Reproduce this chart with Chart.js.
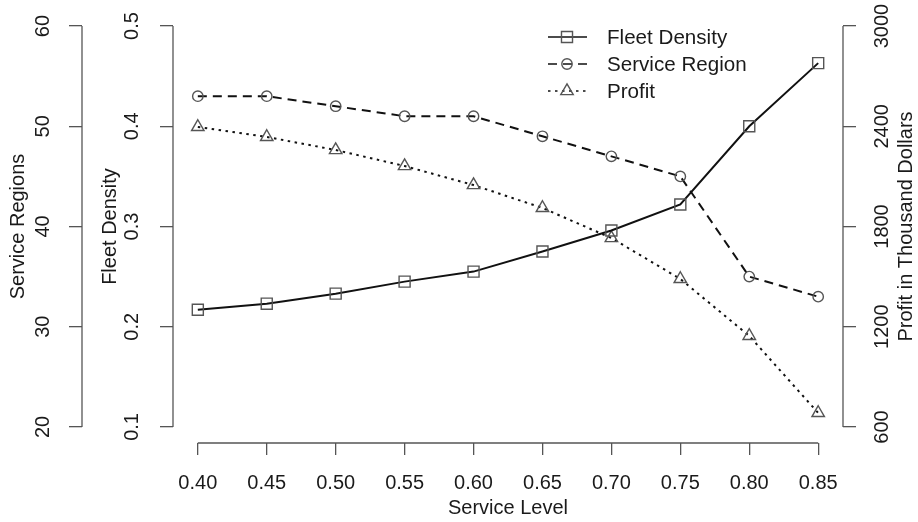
<!DOCTYPE html>
<html><head><meta charset="utf-8">
<script src="https://cdn.jsdelivr.net/npm/chart.js@4.4.0/dist/chart.umd.min.js"></script>
<style>html,body{margin:0;padding:0;background:#fff}canvas{display:block}</style>
</head><body>
<canvas id="c" width="918" height="522"></canvas>
<script>
// ---- data ----
const serviceLevels  = [0.40,0.45,0.50,0.55,0.60,0.65,0.70,0.75,0.80,0.85];
const fleetDensity   = [0.217,0.223,0.233,0.245,0.255,0.275,0.296,0.322,0.400,0.463];
const serviceRegions = [53,53,52,51,51,49,47,45,35,33];
const profit         = [2396,2336,2258,2162,2048,1911,1731,1486,1145,684];
const xTicks       = [0.40,0.45,0.50,0.55,0.60,0.65,0.70,0.75,0.80,0.85];
const densityTicks = [0.1,0.2,0.3,0.4,0.5];
const regionTicks  = [20,30,40,50,60];
const profitTicks  = [600,1200,1800,2400,3000];
const seriesNames  = ['Fleet Density','Service Region','Profit'];
const titleX = 'Service Level';
const titleDensity = 'Fleet Density';
const titleRegions = 'Service Regions';
const titleProfit = 'Profit in Thousand Dollars';

// ---- helpers ----
const FONT = {family:'"Liberation Sans", Arial, Helvetica, sans-serif', size:20};
const TXT = '#1a1a1a';
const AX = '#555';
function ext(arr){const a=arr[0],b=arr[arr.length-1],d=(b-a)*0.04;return {min:a-d,max:b+d};}
function pts(vals){return serviceLevels.map((x,i)=>({x:x,y:vals[i]}));}
function setTicks(list){return s=>{s.ticks=list.map(v=>({value:v}));};}
function noPad(s){s.paddingTop=0;s.paddingBottom=0;s.paddingLeft=0;s.paddingRight=0;}
const xr=ext(serviceLevels), dr=ext(densityTicks), rr=ext(regionTicks), pr=ext(profitTicks);

const markerSize = {rect:7.8, circle:5.2, triangle:7.2};
function yAxis(pos, weight, range, ticks, width, pad, fmt, title, titlePad){
  return {
    type:'linear', position:pos, weight:weight, min:range.min, max:range.max,
    afterBuildTicks:setTicks(ticks),
    afterFit:s=>{s.width=width;noPad(s);},
    ticks:{font:FONT, color:TXT, padding:pad, minRotation:90, maxRotation:90, crossAlign:'center', autoSkip:false, callback:fmt},
    grid:{display:true, drawOnChartArea:false, drawTicks:true, tickLength:13, color:AX, lineWidth:1.3},
    border:{display:false},
    title: title ? {display:true, text:title, font:FONT, color:TXT, padding:{top:titlePad,bottom:0}} : {display:false}
  };
}

// axis spines spanning first..last tick (R style)
const spines = {
  id:'spines',
  afterDraw(chart){
    const ctx=chart.ctx, sc=chart.scales;
    ctx.save(); ctx.strokeStyle=AX; ctx.lineWidth=1.3; ctx.setLineDash([]);
    const ln=(x1,y1,x2,y2)=>{ctx.beginPath();ctx.moveTo(x1,y1);ctx.lineTo(x2,y2);ctx.stroke();};
    const sx=sc.x; ln(sx.getPixelForValue(xTicks[0]), sx.top, sx.getPixelForValue(xTicks[xTicks.length-1]), sx.top);
    const sd=sc.yD; ln(sd.right, sd.getPixelForValue(densityTicks[0]), sd.right, sd.getPixelForValue(densityTicks[densityTicks.length-1]));
    const sr=sc.yR; ln(sr.right, sr.getPixelForValue(regionTicks[0]), sr.right, sr.getPixelForValue(regionTicks[regionTicks.length-1]));
    const sp=sc.yP; ln(sp.left, sp.getPixelForValue(profitTicks[0]), sp.left, sp.getPixelForValue(profitTicks[profitTicks.length-1]));
    // right-axis title reading bottom-to-top
    const ca=chart.chartArea;
    ctx.fillStyle=TXT; ctx.font=FONT.size+'px '+FONT.family; ctx.textAlign='center'; ctx.textBaseline='middle';
    ctx.translate(906,(ca.top+ca.bottom)/2); ctx.rotate(-Math.PI/2); ctx.fillText(titleProfit,0,0);
    ctx.restore();
  }
};

function marker(ctx, style, r, x, y){
  ctx.beginPath();
  if(style==='rect'){const s=Math.SQRT1_2*r; ctx.rect(x-s,y-s,2*s,2*s);}
  else if(style==='circle'){ctx.arc(x,y,r,0,Math.PI*2);}
  else {for(let k=0;k<3;k++){const a=k*2*Math.PI/3; const px=x+Math.sin(a)*r, py=y-Math.cos(a)*r; k?ctx.lineTo(px,py):ctx.moveTo(px,py);} ctx.closePath();}
  ctx.stroke();
}

const legendBox = {
  id:'legendBox',
  afterDraw(chart){
    const ctx=chart.ctx;
    ctx.save();
    chart.data.datasets.forEach((ds,i)=>{
      const y=37+i*27;
      ctx.strokeStyle=ds.borderColor; ctx.lineWidth=1.5; ctx.setLineDash(ds.borderDash||[]);
      ctx.beginPath(); ctx.moveTo(548,y); ctx.lineTo(587,y); ctx.stroke();
      ctx.setLineDash([]); ctx.strokeStyle=ds.pointBorderColor; ctx.lineWidth=ds.pointBorderWidth;
      marker(ctx, ds.pointStyle, ds.pointRadius, 567, y);
      ctx.fillStyle=TXT; ctx.font='20.6px '+FONT.family; ctx.textAlign='left'; ctx.textBaseline='middle';
      ctx.fillText(ds.label, 607, y+1);
    });
    ctx.restore();
  }
};

const common = {fill:false, tension:0, pointBackgroundColor:'rgba(0,0,0,0)', pointBorderColor:'#555', pointBorderWidth:1.4, borderColor:'#111', borderWidth:2};

new Chart(document.getElementById('c'), {
  type:'line',
  data:{datasets:[
    Object.assign({}, common, {label:seriesNames[0], data:pts(fleetDensity), yAxisID:'yD', borderDash:[], pointStyle:'rect', pointRadius:markerSize.rect, pointHoverRadius:markerSize.rect}),
    Object.assign({}, common, {label:seriesNames[1], data:pts(serviceRegions), yAxisID:'yR', borderDash:[9,6], pointStyle:'circle', pointRadius:markerSize.circle, pointHoverRadius:markerSize.circle}),
    Object.assign({}, common, {label:seriesNames[2], data:pts(profit), yAxisID:'yP', borderDash:[2.5,4.5], pointStyle:'triangle', pointRadius:markerSize.triangle, pointHoverRadius:markerSize.triangle})
  ]},
  options:{
    responsive:false, animation:false,
    layout:{padding:{top:10,left:0,right:0,bottom:0}},
    plugins:{legend:{display:false}, tooltip:{enabled:false}},
    scales:{
      x:{type:'linear', position:'bottom', min:xr.min, max:xr.max,
        afterBuildTicks:setTicks(xTicks),
        afterFit:s=>{s.height=79;noPad(s);},
        ticks:{font:FONT, color:TXT, padding:16, minRotation:0, maxRotation:0, autoSkip:false, callback:v=>Number(v).toFixed(2)},
        grid:{display:true, drawOnChartArea:false, drawTicks:true, tickLength:12, color:AX, lineWidth:1.3},
        border:{display:false},
        title:{display:true, text:titleX, font:FONT, color:TXT, padding:{top:0,bottom:2}}
      },
      yD: yAxis('left', 0, dr, densityTicks, 91, 14, v=>String(Number(v).toFixed(1)), titleDensity, 16),
      yR: yAxis('left', 1, rr, regionTicks, 82, 14, v=>String(v), titleRegions, 6.5),
      yP: yAxis('right', 0, pr, profitTicks, 75, 4, v=>String(v), null, 0)
    }
  },
  plugins:[spines, legendBox]
});
</script>
</body></html>
